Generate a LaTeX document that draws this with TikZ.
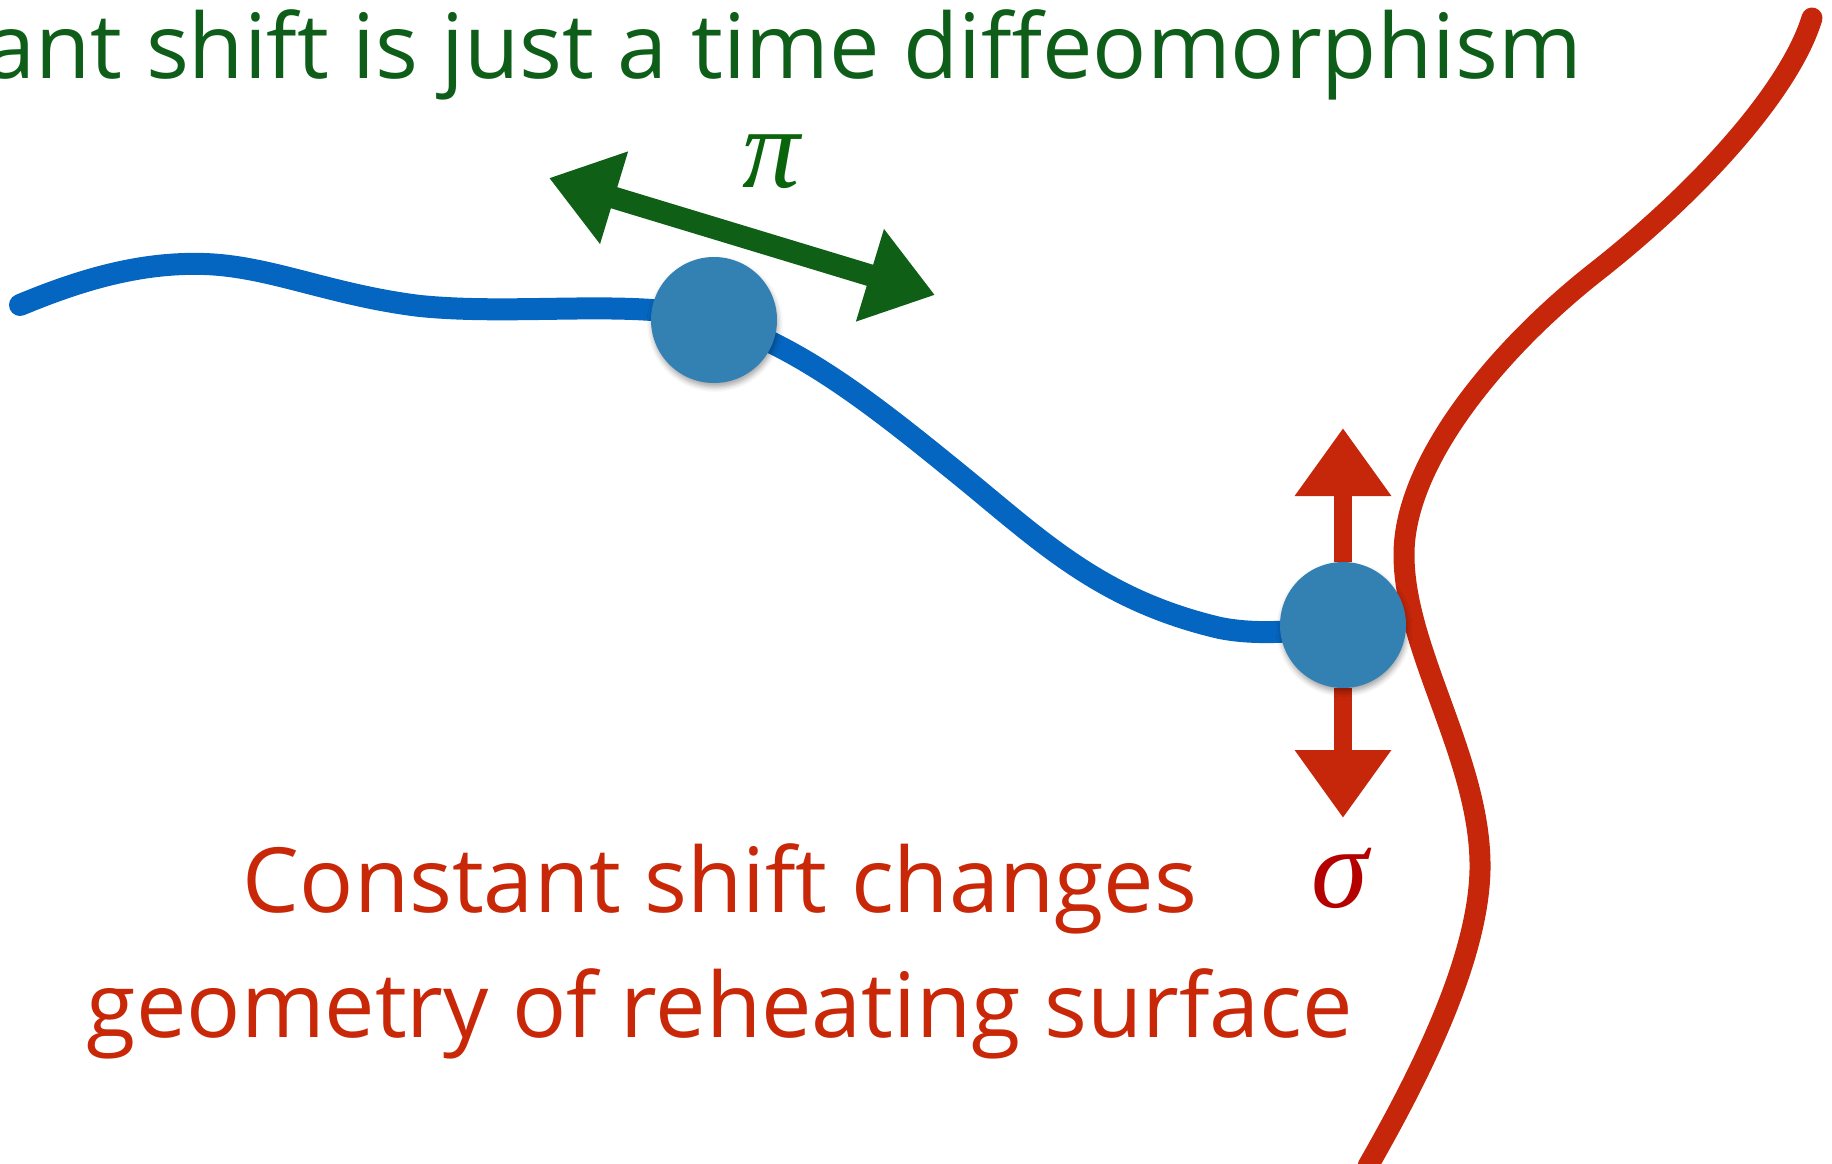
\documentclass[tikz,border=0pt]{standalone}
\usepackage{fontspec}
\setmainfont{Open Sans}
\newfontfamily\grkfont{Liberation Serif}
\usetikzlibrary{arrows.meta,shadows.blur,backgrounds}
\definecolor{tgreen}{RGB}{14,94,26}
\definecolor{pigreen}{RGB}{10,100,12}
\definecolor{agreen}{RGB}{15,95,23}
\definecolor{lblue}{RGB}{5,102,193}
\definecolor{dotblue}{RGB}{51,128,179}
\definecolor{tred}{RGB}{200,39,8}
\definecolor{cred}{RGB}{198,38,9}
\definecolor{sred}{RGB}{181,0,0}
\begin{document}
\begin{tikzpicture}[x=1pt,y=-1pt,
  bigtext/.style={font=\fontsize{90}{108}\selectfont, inner sep=0pt},
  greek/.style={font=\grkfont\itshape\fontsize{115}{130}\selectfont, inner sep=0pt},
  dot/.style={circle, fill=dotblue, minimum size=126pt, inner sep=0pt,
    blur shadow={shadow xshift=1pt, shadow yshift=-4pt, shadow blur radius=5pt, shadow opacity=35}},
  chalkline/.style={line width=22pt, line cap=round, line join=round},
  dblarrow/.style={line width=22pt, agreen,
    {Triangle[length=68pt,width=92pt]}-{Triangle[length=68pt,width=92pt]}},
  redarrow/.style={line width=18pt, cred, -{Triangle[length=68pt,width=92pt]}}
]
\useasboundingbox (0,0) rectangle (1832,1164);

% texts
\node[bigtext, text=tgreen, anchor=base east] (title) at (1582,78)
  {Constant shift is just a time diffeomorphism};
\node[bigtext, text=tred, anchor=base] (line1) at (720,912) {Constant shift changes};
\node[bigtext, text=tred, anchor=base] (line2) at (720,1037) {geometry of reheating surface};
\node[greek, text=pigreen, anchor=base] (pi) at (771,187) {π};
\node[greek, text=sred, anchor=base] (sigma) at (1340,907) {σ};

% dots
\node[dot] (d1) at (714,320) {};
\node[dot] (d2) at (1343,625) {};

% line ends and arrow ends
\coordinate (bstart) at (20,305);
\coordinate (bend) at (1412,620);
\coordinate (rtop) at (1812,18);
\coordinate (rbot) at (1368,1166);
\coordinate (gl) at (549,178);
\coordinate (gr) at (935,295);
\coordinate (upt) at (1343,428);
\coordinate (dnt) at (1343,818);

\begin{scope}[on background layer]
  % blue world line
  \draw[chalkline, lblue] (bstart)
    .. controls (80,280) and (140,262) .. (204,264)
    .. controls (270,266) and (330,295) .. (420,306)
    .. controls (520,316) and (640,298) .. (d1.center)
    .. controls (800,345) and (880,410) .. (960,475)
    .. controls (1040,540) and (1100,600) .. (1220,628)
    .. controls (1280,640) and (1350,622) .. (bend);
  % red reheating surface
  \draw[chalkline, line width=21pt, cred] (rtop)
    .. controls (1790,90) and (1700,190) .. (1597,271)
    .. controls (1500,347) and (1405,460) .. (1404,553)
    .. controls (1403,650) and (1482,760) .. (1480,870)
    .. controls (1478,960) and (1420,1075) .. (rbot);
  % arrows
  \draw[dblarrow] (gl) -- (gr);
  \draw[redarrow] (d2.north) -- (upt);
  \draw[redarrow] (d2.south) -- (dnt);
\end{scope}
\end{tikzpicture}
\end{document}
